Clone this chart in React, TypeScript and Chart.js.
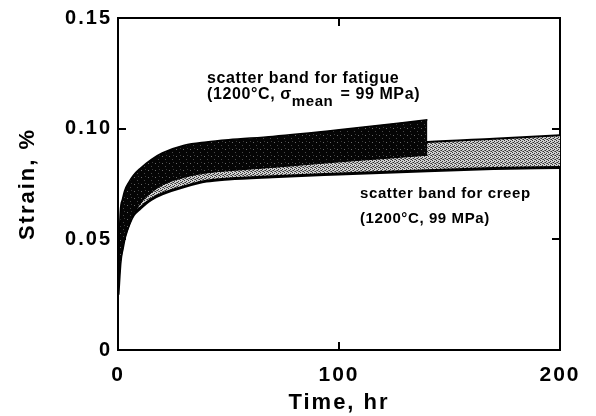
import React, { useEffect, useRef } from 'react';
import { Chart, registerables } from 'chart.js';

Chart.register(...registerables);

// ---- data ----
const fatigueTime = [0, 1, 2, 3, 5, 7, 10, 15, 20, 30, 40, 50, 70, 100, 140];
const fatigueUpper = [0.03, 0.062, 0.068, 0.072, 0.076, 0.079, 0.082, 0.086, 0.089, 0.0925, 0.094, 0.095, 0.0965, 0.0995, 0.104];
const fatigueLower = [0.025, 0.038, 0.045, 0.05, 0.056, 0.061, 0.066, 0.071, 0.0745, 0.078, 0.08, 0.081, 0.0825, 0.085, 0.088];

const creepTime = [0, 1, 2, 3, 5, 7, 10, 15, 20, 30, 40, 50, 70, 100, 140, 170, 200];
const creepUpper = [0.028, 0.05, 0.058, 0.063, 0.068, 0.072, 0.075, 0.079, 0.082, 0.085, 0.087, 0.088, 0.0895, 0.091, 0.094, 0.0955, 0.097];
const creepLower = [0.025, 0.04, 0.046, 0.051, 0.057, 0.061, 0.064, 0.068, 0.0705, 0.0738, 0.0763, 0.0773, 0.0783, 0.0795, 0.081, 0.082, 0.0825];

const xTickValues = [0, 100, 200];
const xTickLabels = ['0', '100', '200'];
const yTickValues = [0, 0.05, 0.1, 0.15];
const yTickLabels = ['0', '0.05', '0.10', '0.15'];

const xTitle = 'Time, hr';
const yTitle = 'Strain, %';

const fatigueLabelLine1 = 'scatter band for fatigue';
const fatigueLabelLine2a = '(1200°C, ';
const fatigueLabelSigma = 'σ';
const fatigueLabelSub = 'mean';
const fatigueLabelLine2b = ' = 99 MPa)';
const fatigueLabelAnchor = { x: 40.3, y: 0.1206, y2: 0.1134 };

const creepLabelLine1 = 'scatter band for creep';
const creepLabelLine2 = '(1200°C, 99 MPa)';
const creepLabelAnchor = { x: 109.5, y: 0.0688, y2: 0.0574 };

const FONT = "'Liberation Sans', Arial, Helvetica, sans-serif";

function makePattern(size: number, bg: string, dots: Array<[number, number, string]>) {
  const c = document.createElement('canvas');
  c.width = size;
  c.height = size;
  const g = c.getContext('2d')!;
  g.fillStyle = bg;
  g.fillRect(0, 0, size, size);
  dots.forEach(([x, y, col]) => {
    g.fillStyle = col;
    g.fillRect(x, y, 1, 1);
  });
  return g.createPattern(c, 'repeat')!;
}

const toPoints = (xs: number[], ys: number[]) => xs.map((x, i) => ({ x, y: ys[i] }));

const spacingPlugin = {
  id: 'axisSpacing',
  beforeDraw(chart: any) {
    (chart.ctx as any).letterSpacing = '2px';
  },
};

const labelPlugin = {
  id: 'bandLabels',
  afterDraw(chart: any) {
    const { ctx } = chart;
    const xs = chart.scales.x;
    const ys = chart.scales.y;
    ctx.save();
    ctx.fillStyle = '#000';
    ctx.textAlign = 'left';
    ctx.textBaseline = 'alphabetic';
    (ctx as any).letterSpacing = '0.6px';

    ctx.font = `bold 16px ${FONT}`;
    let px = xs.getPixelForValue(fatigueLabelAnchor.x);
    ctx.fillText(fatigueLabelLine1, px, ys.getPixelForValue(fatigueLabelAnchor.y));
    const by = ys.getPixelForValue(fatigueLabelAnchor.y2);
    ctx.font = `bold 16px ${FONT}`;
    ctx.fillText(fatigueLabelLine2a, px, by);
    px += ctx.measureText(fatigueLabelLine2a).width;
    ctx.fillText(fatigueLabelSigma, px, by);
    px += ctx.measureText(fatigueLabelSigma).width;
    ctx.font = `bold 15px ${FONT}`;
    ctx.fillText(fatigueLabelSub, px, by + 7);
    px += ctx.measureText(fatigueLabelSub).width + 2;
    ctx.font = `bold 16px ${FONT}`;
    ctx.fillText(fatigueLabelLine2b, px, by);

    const cx = xs.getPixelForValue(creepLabelAnchor.x);
    ctx.font = `bold 15px ${FONT}`;
    ctx.fillText(creepLabelLine1, cx, ys.getPixelForValue(creepLabelAnchor.y));
    ctx.fillText(creepLabelLine2, cx, ys.getPixelForValue(creepLabelAnchor.y2));
    ctx.restore();
  },
};

const clearPad = (s: any) => {
  s.paddingTop = 0;
  s.paddingBottom = 0;
  s.paddingLeft = 0;
  s.paddingRight = 0;
};

export default function App() {
  const ref = useRef<HTMLCanvasElement | null>(null);

  useEffect(() => {
    if (!ref.current) return;
    const darkPattern = makePattern(7, '#050505', [
      [1, 2, '#6a6a6a'],
      [4, 5, '#4a4a4a'],
      [5, 1, '#3a3a3a'],
    ]);
    const grayPattern = makePattern(4, '#d0d0d0', [
      [0, 0, '#333333'],
      [2, 1, '#333333'],
      [1, 2, '#333333'],
      [3, 3, '#333333'],
      [2, 3, '#707070'],
      [0, 2, '#707070'],
    ]);

    const axisBorder = { color: '#000', width: 2 };
    const axisGrid = {
      color: '#000',
      lineWidth: 2,
      drawOnChartArea: false,
      drawTicks: true,
      tickLength: -8,
    };

    const chart = new Chart(ref.current, {
      type: 'line',
      data: {
        datasets: [
          {
            label: 'fatigue lower',
            data: toPoints(fatigueTime, fatigueLower),
            borderColor: '#000',
            borderWidth: 1,
            pointRadius: 0,
            fill: false,
            cubicInterpolationMode: 'monotone',
          },
          {
            label: 'fatigue upper',
            data: toPoints(fatigueTime, fatigueUpper),
            borderColor: '#000',
            borderWidth: 1.5,
            backgroundColor: darkPattern as any,
            pointRadius: 0,
            fill: '-1',
            cubicInterpolationMode: 'monotone',
          },
          {
            label: 'creep lower',
            data: toPoints(creepTime, creepLower),
            borderColor: '#000',
            borderWidth: 3,
            pointRadius: 0,
            fill: false,
            cubicInterpolationMode: 'monotone',
          },
          {
            label: 'creep upper',
            data: toPoints(creepTime, creepUpper),
            borderColor: '#000',
            borderWidth: 2,
            backgroundColor: grayPattern as any,
            pointRadius: 0,
            fill: '-1',
            cubicInterpolationMode: 'monotone',
          },
        ],
      },
      options: {
        responsive: false,
        animation: false,
        layout: { padding: { left: 0, top: 18, right: 36, bottom: 0 } },
        plugins: {
          legend: { display: false },
          tooltip: { enabled: false },
        },
        scales: {
          x: {
            type: 'linear',
            position: 'bottom',
            min: 0,
            max: 200,
            border: axisBorder,
            grid: axisGrid,
            afterBuildTicks: (s: any) => {
              s.ticks = xTickValues.map((v) => ({ value: v }));
            },
            afterFit: (s: any) => {
              s.height = 66;
              clearPad(s);
            },
            ticks: {
              color: '#000',
              padding: 21,
              maxRotation: 0,
              autoSkip: false,
              font: { family: FONT, size: 21, weight: 'bold' },
              callback: (_v: any, i: number) => xTickLabels[i],
            },
            title: {
              display: true,
              text: xTitle,
              color: '#000',
              padding: { top: 0, bottom: 0 },
              font: { family: FONT, size: 22, weight: 'bold' },
            },
          },
          x2: {
            type: 'linear',
            position: 'top',
            min: 0,
            max: 200,
            border: axisBorder,
            grid: axisGrid,
            afterBuildTicks: (s: any) => {
              s.ticks = xTickValues.map((v) => ({ value: v }));
            },
            afterFit: (s: any) => {
              s.height = 0;
              clearPad(s);
            },
            ticks: { display: false },
          },
          y: {
            type: 'linear',
            position: 'left',
            min: 0,
            max: 0.15,
            border: axisBorder,
            grid: axisGrid,
            afterBuildTicks: (s: any) => {
              s.ticks = yTickValues.map((v) => ({ value: v }));
            },
            afterFit: (s: any) => {
              s.width = 118;
              clearPad(s);
            },
            ticks: {
              color: '#000',
              padding: 14,
              autoSkip: false,
              font: { family: FONT, size: 20, weight: 'bold' },
              callback: (_v: any, i: number) => yTickLabels[i],
            },
            title: {
              display: true,
              text: yTitle,
              color: '#000',
              padding: { top: 15, bottom: 0 },
              font: { family: FONT, size: 22, weight: 'bold' },
            },
          },
          y2: {
            type: 'linear',
            position: 'right',
            min: 0,
            max: 0.15,
            border: axisBorder,
            grid: axisGrid,
            afterBuildTicks: (s: any) => {
              s.ticks = yTickValues.map((v) => ({ value: v }));
            },
            afterFit: (s: any) => {
              s.width = 0;
              clearPad(s);
            },
            ticks: { display: false },
          },
        },
      } as any,
      plugins: [spacingPlugin, labelPlugin],
    });
    return () => chart.destroy();
  }, []);

  return (
    <div style={{ position: 'absolute', left: 0, top: 0, width: 596, height: 416, background: '#fff' }}>
      <canvas ref={ref} width={596} height={416} style={{ display: 'block' }} />
    </div>
  );
}
